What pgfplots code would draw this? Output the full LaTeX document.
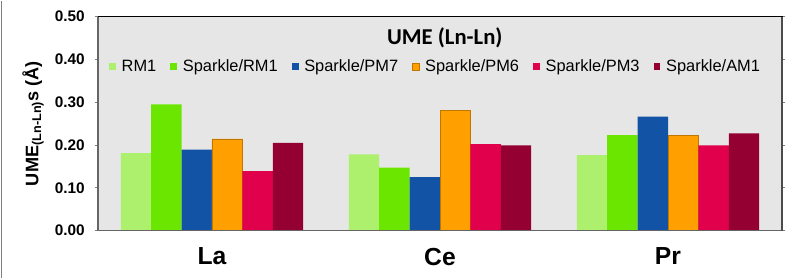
\documentclass[border=0pt]{standalone}
\usepackage{pgfplots}
\pgfplotsset{compat=1.18}
\usepackage{fontspec}
\setmainfont{Liberation Sans}
\newfontfamily\titlefont{Carlito}
\definecolor{cRMa}{HTML}{ADF06E}
\definecolor{cRMb}{HTML}{6AE600}
\definecolor{cPMs}{HTML}{1353A5}
\definecolor{cPMx}{HTML}{FF9F00}
\definecolor{cPMt}{HTML}{E0004B}
\definecolor{cAM}{HTML}{930031}
\definecolor{bg}{HTML}{E6E6E6}
\begin{document}
\begin{tikzpicture}
\begin{axis}[
  name=ax,
  scale only axis,
  width=513pt, height=160.5pt,
  ybar=0pt, bar width=0.1333,
  xmin=-0.5, xmax=2.5,
  ymin=0, ymax=0.5,
  xtick={0,1,2}, xticklabels={La,Ce,Pr},
  xtick style={draw=none},
  xticklabel style={font=\fontsize{18.5}{20}\selectfont\bfseries, yshift=-7pt},
  ytick={0,0.1,0.2,0.3,0.4,0.5},
  yticklabel style={font=\fontsize{11.5}{13}\selectfont\bfseries, xshift=-4pt},
  /pgf/number format/assume math mode=true,
  yticklabel={\pgfmathprintnumber[fixed,fixed zerofill,precision=2]{\tick}},
  ytick style={gray, line width=0.6pt},
  tick align=outside, major tick length=2.5pt,
  axis background/.style={fill=bg},
  axis line style={black, line width=0.6pt},
  every axis y label/.style={at={(axis description cs:-0.095,0.5)}, rotate=90, anchor=center},
  ylabel={\fontsize{13.6}{15}\selectfont\bfseries UME\textsubscript{(Ln-Ln)}s (Å)},
  legend columns=6,
  legend style={at={(0.494,0.766)}, anchor=center, draw=none, fill=none,
    font=\fontsize{12.3}{14}\selectfont, column sep=2.25pt, inner xsep=0pt,
    nodes={inner xsep=2pt},
    /tikz/every even column/.append style={column sep=8.5pt}},
  legend image code/.code={\fill[#1] (0pt,-2.6pt) rectangle (5.2pt,2.6pt);},
  clip=false,
]
\addplot[fill=cRMa, draw=none] coordinates {(0,0.181) (1,0.178) (2,0.176)};
\addplot[fill=cRMb, draw=none] coordinates {(0,0.295) (1,0.147) (2,0.223)};
\addplot[fill=cPMs, draw=none] coordinates {(0,0.189) (1,0.125) (2,0.266)};
\addplot[fill=cPMx, draw=cPMx!75!black, line width=0.3pt] coordinates {(0,0.214) (1,0.280) (2,0.223)};
\addplot[fill=cPMt, draw=none] coordinates {(0,0.139) (1,0.202) (2,0.199)};
\addplot[fill=cAM, draw=none] coordinates {(0,0.205) (1,0.199) (2,0.227)};
\legend{RM1,Sparkle/RM1,Sparkle/PM7,Sparkle/PM6,Sparkle/PM3,Sparkle/AM1}
\draw[gray!80!black, line width=0.8pt] (rel axis cs:0,1) -- (rel axis cs:0,0) -- (rel axis cs:1,0);
\draw[gray!60!black, line width=1.2pt] (rel axis cs:1,0) -- (rel axis cs:1,1);
\node[font=\titlefont\fontsize{17}{19}\selectfont\bfseries] at (rel axis cs:0.507,0.90) {UME (Ln-Ln)};
\end{axis}
\pgfresetboundingbox
\path ([xshift=-73.5pt,yshift=-35.25pt]ax.south west) rectangle ([xshift=10.5pt,yshift=12pt]ax.north east);
\draw[gray, line width=0.8pt] ([xshift=-72.5pt,yshift=-35.25pt]ax.south west) -- ([xshift=-72.5pt,yshift=12pt]ax.north west);
\end{tikzpicture}
\end{document}
